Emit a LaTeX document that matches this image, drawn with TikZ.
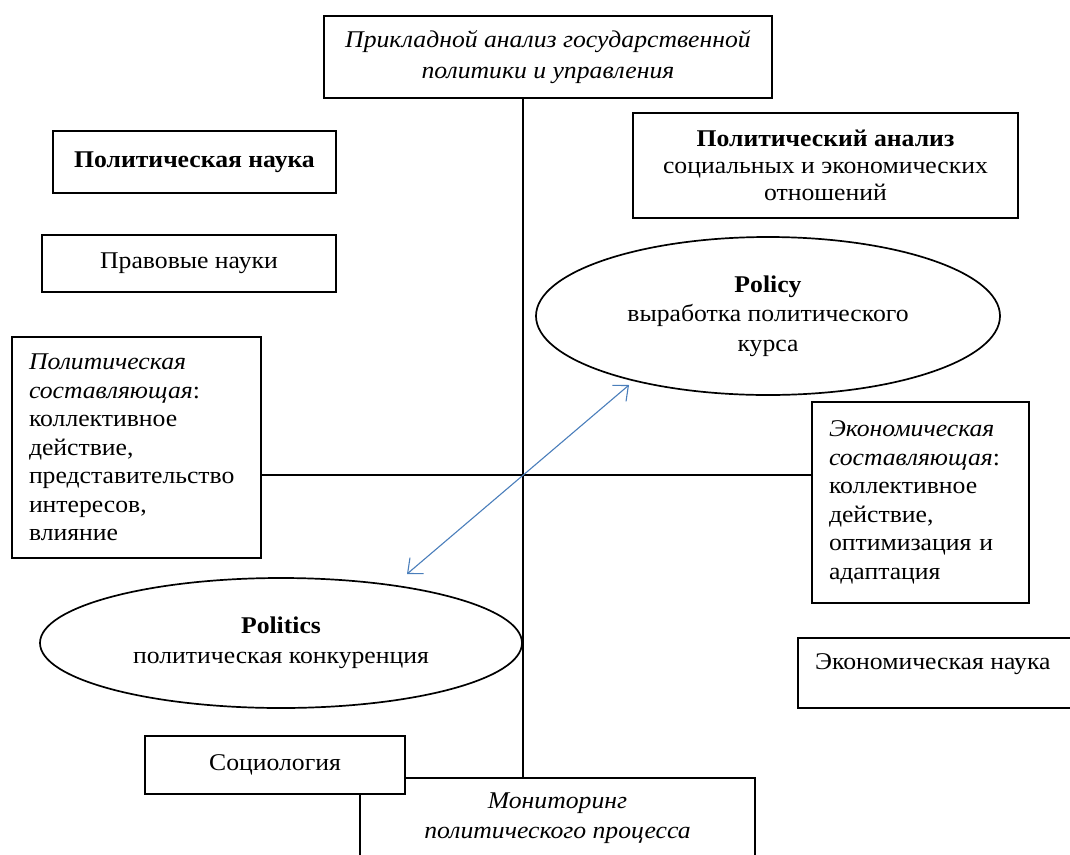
\documentclass[tikz,border=0pt]{standalone}
\usepackage{fontspec}
\setmainfont[FakeStretch=1.07]{Liberation Serif}
\usetikzlibrary{arrows.meta,shapes.geometric}
\definecolor{arrowblue}{RGB}{74,126,187}
\begin{document}
\begin{tikzpicture}[x=1pt,y=-1pt,
  box/.style={draw, line width=1.3pt, fill=white, inner sep=0pt, font=\fontsize{24}{28.5}\selectfont},
  ell/.style={draw, ellipse, line width=1.7pt, inner sep=0pt, align=center, font=\fontsize{24}{29.5}\selectfont},
  txt/.style={inner sep=0pt, font=\fontsize{24}{29.5}\selectfont},
  link/.style={line width=1.3pt},
  arr/.style={line width=1.1pt, arrowblue, {Straight Barb[length=12pt,width=21pt]}-{Straight Barb[length=12pt,width=21pt]}}
]
\useasboundingbox (0,0) rectangle (1070,854);
\clip (0,0) rectangle (1070,854);

\node[box, minimum width=448, minimum height=82, align=center, font=\fontsize{24}{31}\selectfont] (top) at (548,57)
  {\itshape Прикладной анализ государственной\\\itshape политики и управления};
\node[box, minimum width=283, minimum height=62] (polnauka) at (194.5,162)
  {\bfseries Политическая наука};
\node[box, minimum width=294, minimum height=57] (pravo) at (189,263.5)
  {Правовые науки};
\node[box, minimum width=385, minimum height=105, align=center, font=\fontsize{24}{27}\selectfont] (polanal) at (825.5,165.5)
  {\bfseries Политический анализ\\социальных и экономических\\отношений};
\node[box, minimum width=249, minimum height=221, text width=215, align=left] (left) at (136.5,447.5)
  {\textit{Политическая}\\\textit{составляющая}:\\коллективное\\действие,\\представительство\\интересов,\\влияние};
\node[box, minimum width=217, minimum height=201, text width=183, align=left] (right) at (920.5,502.5)
  {\textit{Экономическая}\\\textit{составляющая}:\\коллективное\\действие,\\оптимизация и\\адаптация};
\node[ell, minimum width=464, minimum height=158] (policy) at (768,316)
  {\bfseries Policy\\выработка политического\\курса};
\node[ell, minimum width=482, minimum height=130] (politics) at (281,643)
  {\bfseries Politics\\политическая конкуренция};
\node[box, minimum width=292, minimum height=70] (econ) at (944,673) {};
\node[txt, anchor=west] (econtext) at (815,664) {Экономическая наука};
\node[box, minimum width=395, minimum height=122] (monitor) at (557.5,839) {};
\node[txt, align=center] (montext) at (557.5,818)
  {\itshape Мониторинг\\\itshape политического процесса};
\node[box, minimum width=260, minimum height=58] (socio) at (275,765) {Социология};

\coordinate (vx) at (523,475);
\draw[link] (vx |- top.south) -- (vx |- monitor.north);
\draw[link] (left.east |- vx) -- (right.west |- vx);

\coordinate (p1) at (407,574);
\coordinate (p2) at (629,385);
\draw[arr] (p1) -- (p2);
\end{tikzpicture}
\end{document}
